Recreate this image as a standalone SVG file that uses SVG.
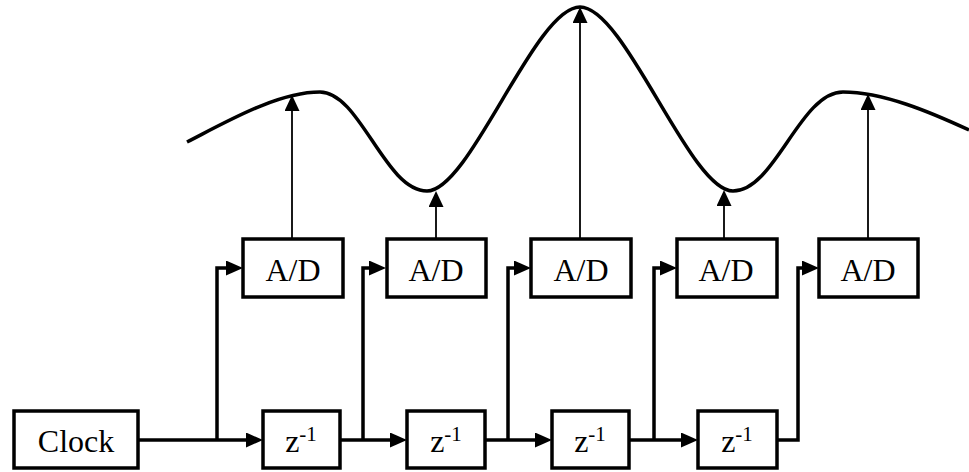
<svg xmlns="http://www.w3.org/2000/svg" width="969" height="472" viewBox="0 0 969 472">
<style>
.box{fill:#fff;stroke:#000;stroke-width:3.5}
.lbl{font-family:"Liberation Serif","Times New Roman",serif;font-size:32px;fill:#000;text-anchor:middle}
.sup{font-size:21px}
.thick{fill:none;stroke:#000;stroke-width:3.5}
.thin{fill:none;stroke:#000;stroke-width:1.8}
.curve{fill:none;stroke:#000;stroke-width:3.5}
</style>
<defs>
<marker id="ah" markerUnits="userSpaceOnUse" markerWidth="17" markerHeight="15" refX="9" refY="7.5" orient="auto">
<path d="M0,0 L17,7.5 L0,15 z" fill="#000"/>
</marker>
<marker id="au" markerUnits="userSpaceOnUse" markerWidth="16" markerHeight="15" refX="8" refY="7.5" orient="auto">
<path d="M0,0 L16,7.5 L0,15 z" fill="#000"/>
</marker>
</defs>
<path class="curve" d="M187,142 C228,121 278,92 320,92 C360,92 385,191 427,191 C470,191 535,7 580,7 C625,7 690,191 733,191 C775,191 800,92 843,92 C883,92 930,112 969,130"/>
<g id="connectors">
<path class="thick" d="M138,440 H255" marker-end="url(#ah)"/>
<path class="thick" d="M217,440 V268 H235" marker-end="url(#ah)"/>
<path class="thick" d="M340,440 H399" marker-end="url(#ah)"/>
<path class="thick" d="M363,440 V268 H378" marker-end="url(#ah)"/>
<path class="thick" d="M485,440 H544" marker-end="url(#ah)"/>
<path class="thick" d="M508,440 V268 H523" marker-end="url(#ah)"/>
<path class="thick" d="M629,440 H690" marker-end="url(#ah)"/>
<path class="thick" d="M654,440 V268 H669" marker-end="url(#ah)"/>
<path class="thick" d="M777,440 H798 V268 H811" marker-end="url(#ah)"/>
<path class="thin" d="M292,239 V103" marker-end="url(#au)"/>
<path class="thin" d="M436,239 V199" marker-end="url(#au)"/>
<path class="thin" d="M580,239 V15" marker-end="url(#au)"/>
<path class="thin" d="M724,239 V198" marker-end="url(#au)"/>
<path class="thin" d="M868,239 V102" marker-end="url(#au)"/>
</g>
<g id="clock"><rect class="box" x="14" y="411" width="124" height="57"/><text class="lbl" x="76" y="452">Clock</text></g>
<g id="z1"><rect class="box" x="263" y="411" width="77" height="57"/><text class="lbl" x="301" y="452">z<tspan class="sup" dy="-11">-1</tspan></text></g>
<g id="z2"><rect class="box" x="407" y="411" width="78" height="57"/><text class="lbl" x="446" y="452">z<tspan class="sup" dy="-11">-1</tspan></text></g>
<g id="z3"><rect class="box" x="552" y="411" width="77" height="57"/><text class="lbl" x="590" y="452">z<tspan class="sup" dy="-11">-1</tspan></text></g>
<g id="z4"><rect class="box" x="698" y="411" width="79" height="57"/><text class="lbl" x="737" y="452">z<tspan class="sup" dy="-11">-1</tspan></text></g>
<g id="ad1"><rect class="box" x="243" y="239" width="100" height="58"/><text class="lbl" x="293" y="281">A/D</text></g>
<g id="ad2"><rect class="box" x="387" y="239" width="99" height="58"/><text class="lbl" x="436" y="281">A/D</text></g>
<g id="ad3"><rect class="box" x="531" y="239" width="100" height="58"/><text class="lbl" x="581" y="281">A/D</text></g>
<g id="ad4"><rect class="box" x="677" y="239" width="100" height="58"/><text class="lbl" x="726" y="281">A/D</text></g>
<g id="ad5"><rect class="box" x="819" y="239" width="99" height="58"/><text class="lbl" x="868" y="281">A/D</text></g>
</svg>
